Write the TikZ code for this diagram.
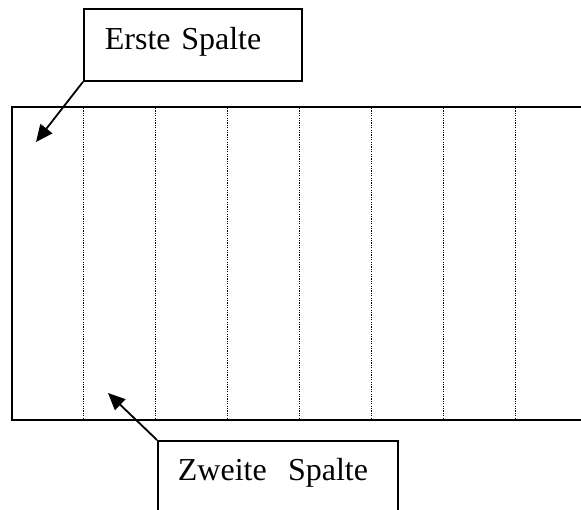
\documentclass[tikz,border=0pt]{standalone}
\usepackage{fontspec}
\setmainfont{Liberation Serif}
\usetikzlibrary{positioning,arrows.meta}
\tikzset{
  frame/.style={draw=black,line width=2pt},
  divider/.style={draw=black,line width=1.4pt,dash pattern=on 1.2pt off 1.2pt},
  callout/.style={draw=black,line width=1.8pt,rectangle,inner ysep=0pt,inner xsep=21pt,
    align=left,font=\fontsize{32}{36}\selectfont},
  pointer/.style={draw=black,line width=1.8pt,-{Triangle[length=17pt,width=15pt]}},
}

\begin{document}
\begin{tikzpicture}[x=1pt,y=-1pt]
\clip (0,0) rectangle (581,509);
% table with open right side
\draw[frame] (595,107) -- (12,107) -- (12,420) -- (595,420);
\foreach \k in {0,...,6}
  \draw[divider] ({83.5+72*\k},108) -- ({83.5+72*\k},419);
% labels
\node[callout,anchor=north west,text width=176pt,text height=41pt,text depth=31pt]
  (erste) at (83,8) {Erste Spalte};
\node[callout,anchor=north west,text width=200pt,text height=40pt,text depth=60pt,inner xsep=20pt]
  (zweite) at (157,440) {Zweite\ \ Spalte};
\coordinate (col1) at (36,142);
\coordinate (col2) at (108,393);
\draw[pointer] (erste.south west) -- (col1);
\draw[pointer] (zweite.north west) -- (col2);
\end{tikzpicture}
\end{document}
